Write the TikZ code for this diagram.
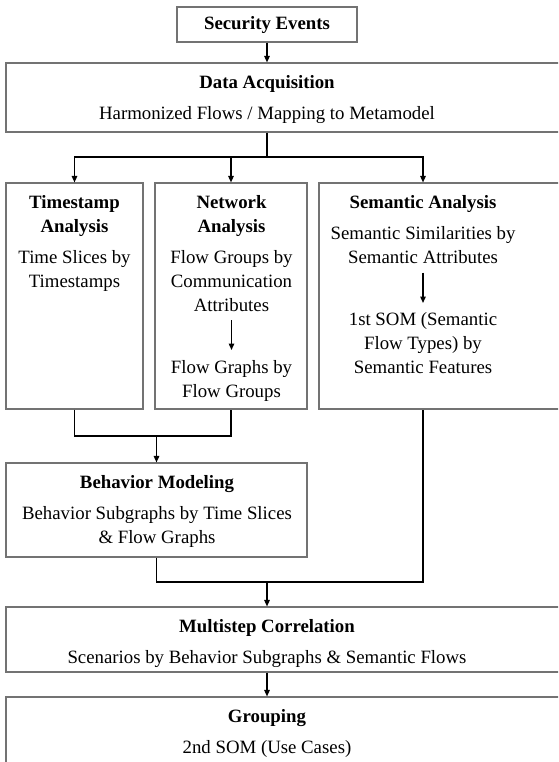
\documentclass[tikz,border=0pt]{standalone}
\usepackage{fontspec}
\setmainfont{Liberation Serif}
\usetikzlibrary{arrows.meta}
\begin{document}
\begin{tikzpicture}[x=1pt,y=-1pt,
  box/.style={draw=black!55,line width=1.1pt,rectangle,inner sep=0pt},
  txt/.style={anchor=north,inner sep=0pt,align=center,font=\fontsize{18.8}{24}\selectfont},
  ttl/.style={txt,font=\fontsize{18.8}{23.5}\selectfont\bfseries},
  conn/.style={draw=black,line width=1.4pt},
  arr/.style={conn,-{Triangle[length=6.5pt,width=5.5pt]}}]
\useasboundingbox (0,0) rectangle (558,762);
\clip (0,0) rectangle (558,762);
% boxes
\node[box,minimum width=180,minimum height=35] (se) at (267,24.5) {};
\node[ttl,anchor=center] (setxt) at (267,25.5) {Security Events};
\node[box,minimum width=564,minimum height=69] (da) at (288,97.5) {};
\node[box,minimum width=137,minimum height=226] (ts) at (74.5,296) {};
\node[box,minimum width=152,minimum height=226] (net) at (231,296) {};
\node[box,minimum width=251,minimum height=226] (sem) at (444.5,296) {};
\node[box,minimum width=301,minimum height=94] (bm) at (156.5,510) {};
\node[box,minimum width=564,minimum height=65] (mc) at (288,639.5) {};
\node[box,minimum width=564,minimum height=93] (gr) at (288,743.5) {};
% texts
\node[ttl] (datitle) at (267,75.5) {Data Acquisition};
\node[txt] (dabody) at (267,106.5) {Harmonized Flows / Mapping to Metamodel};
\node[ttl] (tstitle) at (74.5,195.5) {Timestamp\\Analysis};
\node[txt] (tsbody) at (74.5,250.5) {Time Slices by\\Timestamps};
\node[ttl] (nettitle) at (231.5,195.5) {Network\\Analysis};
\node[txt] (netbody) at (231.5,250.5) {Flow Groups by\\Communication\\Attributes};
\node[txt] (netbodyb) at (231.5,360.5) {Flow Graphs by\\Flow Groups};
\node[ttl] (semtitle) at (423,195.5) {Semantic Analysis};
\node[txt] (sembody) at (423,226.5) {Semantic Similarities by\\Semantic Attributes};
\node[txt] (sembodyb) at (423,312.5) {1st SOM (Semantic\\Flow Types) by\\Semantic Features};
\node[ttl] (bmtitle) at (157,475.5) {Behavior Modeling};
\node[txt] (bmbody) at (157,506.5) {Behavior Subgraphs by Time Slices\\\& Flow Graphs};
\node[ttl] (mctitle) at (267,619.5) {Multistep Correlation};
\node[txt] (mcbody) at (267,650.5) {Scenarios by Behavior Subgraphs \& Semantic Flows};
\node[ttl] (grtitle) at (267,709.5) {Grouping};
\node[txt] (grbody) at (267,740.5) {2nd SOM (Use Cases)};
% junction points
\coordinate (j1) at (267,157);
\coordinate (m1) at (156.5,436);
\coordinate (m2) at (267,582);
% connectors
\draw[arr] (se.south) -- (se.south |- da.north);
\draw[conn] (j1 |- da.south) -- (j1);
\draw[arr] (j1) -| (ts.north);
\draw[arr] (j1) -| (net.north);
\draw[arr] (j1) -| (sem.north -| semtitle);
\draw[arr] ([yshift=-8pt]netbody.south) -- ([yshift=10.5pt]netbodyb.north);
\draw[arr] ([yshift=-8.5pt]sembody.south) -- ([yshift=9.5pt]sembodyb.north);
\draw[conn] (ts.south) |- (m1) -| (net.south);
\draw[arr] (m1) -- (bm.north);
\draw[conn] (bm.south) |- (m2) -| (sem.south -| semtitle);
\draw[arr] (m2) -- (mc.north -| m2);
\draw[arr] (mc.south -| m2) -- (gr.north -| m2);
\end{tikzpicture}
\end{document}
